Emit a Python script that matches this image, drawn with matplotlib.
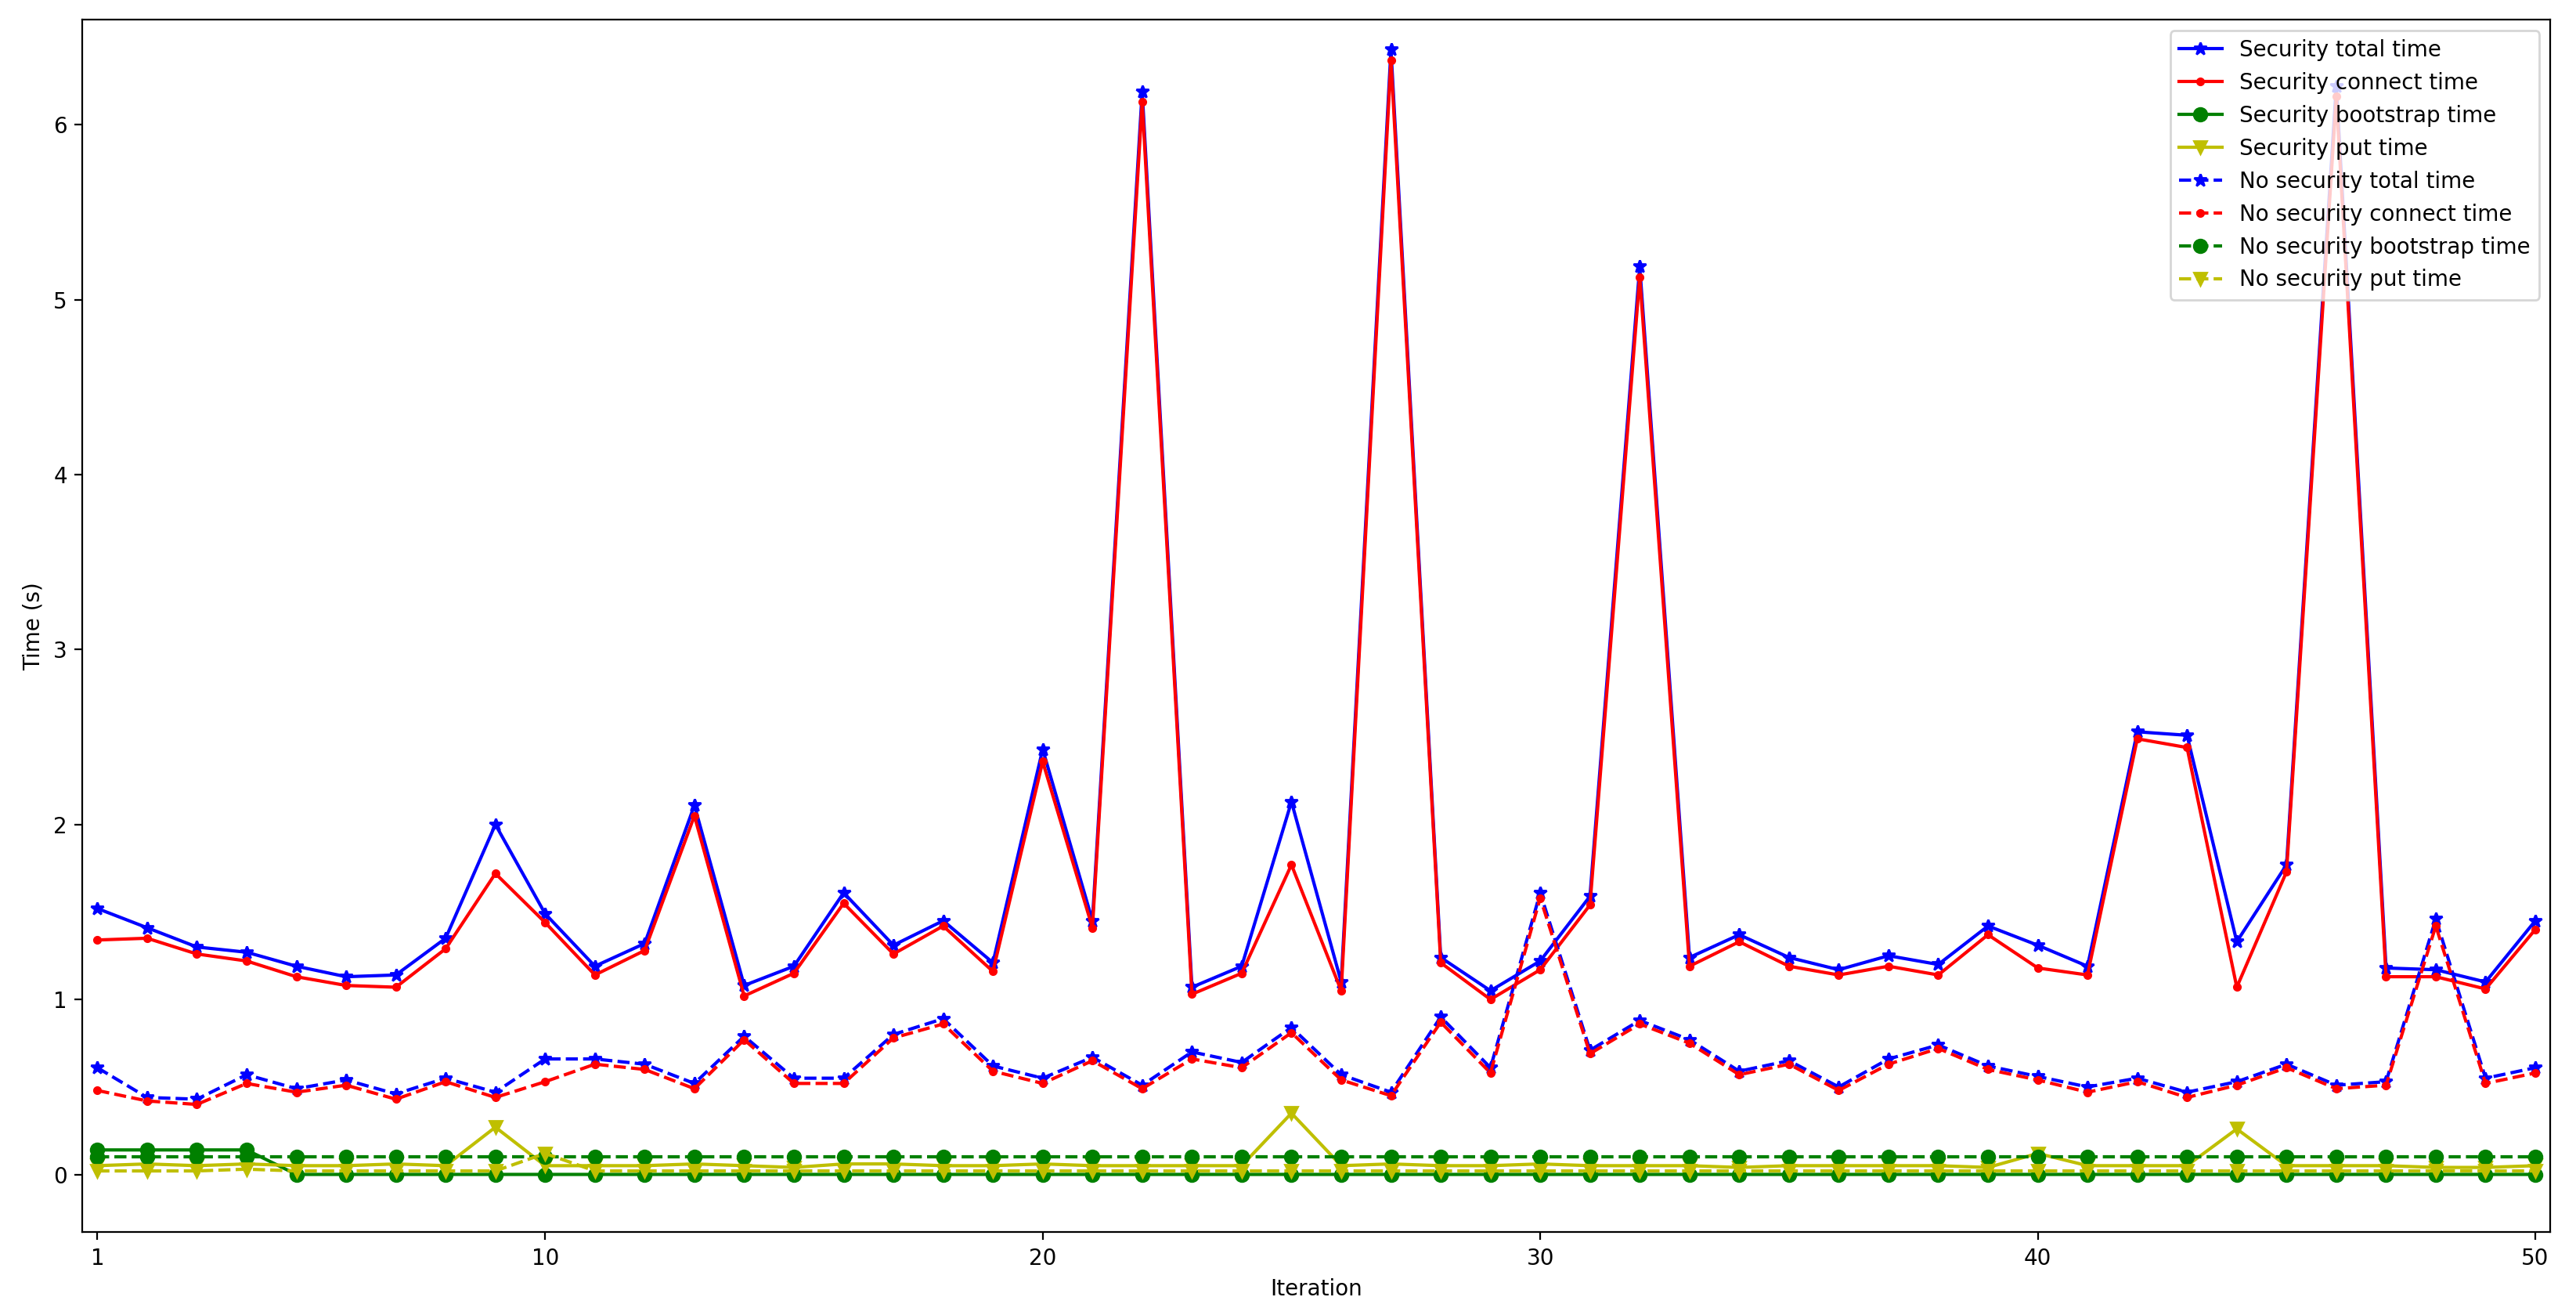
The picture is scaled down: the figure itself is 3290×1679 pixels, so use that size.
import matplotlib
matplotlib.use("Agg")
import matplotlib.pyplot as plt
import numpy as np

iterations = list(range(1, 51))

sec_total = [1.52, 1.41, 1.30, 1.27, 1.19, 1.13, 1.14, 1.35, 2.00, 1.49,
             1.19, 1.32, 2.11, 1.08, 1.19, 1.61, 1.31, 1.45, 1.21, 2.43,
             1.45, 6.19, 1.07, 1.19, 2.13, 1.10, 6.43, 1.24, 1.05, 1.22,
             1.59, 5.19, 1.24, 1.37, 1.24, 1.17, 1.25, 1.20, 1.42, 1.31,
             1.19, 2.53, 2.51, 1.33, 1.77, 6.22, 1.18, 1.17, 1.10, 1.45]
sec_connect = [1.34, 1.35, 1.26, 1.22, 1.13, 1.08, 1.07, 1.29, 1.72, 1.44,
               1.14, 1.28, 2.05, 1.02, 1.15, 1.55, 1.26, 1.42, 1.16, 2.36,
               1.41, 6.13, 1.03, 1.15, 1.77, 1.05, 6.37, 1.21, 1.00, 1.17,
               1.54, 5.13, 1.19, 1.33, 1.19, 1.14, 1.19, 1.14, 1.37, 1.18,
               1.14, 2.49, 2.44, 1.07, 1.73, 6.16, 1.13, 1.13, 1.06, 1.40]
sec_bootstrap = [0.14, 0.14, 0.14, 0.14] + [0.0] * 46
sec_put = [0.05, 0.06, 0.05, 0.06, 0.05, 0.05, 0.06, 0.05, 0.27, 0.05,
           0.05, 0.05, 0.06, 0.05, 0.04, 0.06, 0.06, 0.05, 0.05, 0.06,
           0.05, 0.05, 0.05, 0.05, 0.35, 0.05, 0.06, 0.05, 0.05, 0.06,
           0.05, 0.05, 0.05, 0.04, 0.05, 0.05, 0.05, 0.05, 0.04, 0.12,
           0.05, 0.05, 0.05, 0.26, 0.05, 0.05, 0.05, 0.04, 0.04, 0.05]

nosec_total = [0.61, 0.44, 0.43, 0.57, 0.49, 0.54, 0.46, 0.55, 0.47, 0.66,
               0.66, 0.63, 0.52, 0.79, 0.55, 0.55, 0.80, 0.89, 0.62, 0.55,
               0.67, 0.51, 0.70, 0.64, 0.84, 0.57, 0.47, 0.90, 0.61, 1.61,
               0.71, 0.88, 0.77, 0.59, 0.65, 0.50, 0.66, 0.74, 0.62, 0.56,
               0.50, 0.55, 0.47, 0.53, 0.63, 0.51, 0.53, 1.46, 0.55, 0.61]
nosec_connect = [0.48, 0.42, 0.40, 0.52, 0.47, 0.51, 0.43, 0.53, 0.44, 0.53,
                 0.63, 0.60, 0.49, 0.77, 0.52, 0.52, 0.78, 0.86, 0.59, 0.52,
                 0.65, 0.49, 0.66, 0.61, 0.81, 0.54, 0.45, 0.87, 0.58, 1.58,
                 0.69, 0.86, 0.75, 0.57, 0.63, 0.48, 0.63, 0.72, 0.60, 0.54,
                 0.47, 0.53, 0.44, 0.51, 0.61, 0.49, 0.51, 1.42, 0.52, 0.58]
nosec_bootstrap = [0.10] * 50
nosec_put = [0.02, 0.02, 0.02, 0.03, 0.02, 0.02, 0.02, 0.02, 0.02, 0.12,
             0.02, 0.02, 0.02, 0.02, 0.02, 0.02, 0.02, 0.02, 0.02, 0.02,
             0.02, 0.02, 0.02, 0.02, 0.02, 0.02, 0.02, 0.02, 0.02, 0.02,
             0.02, 0.02, 0.02, 0.02, 0.02, 0.02, 0.02, 0.02, 0.02, 0.02,
             0.02, 0.02, 0.02, 0.02, 0.02, 0.02, 0.02, 0.02, 0.02, 0.02]

fig, ax = plt.subplots(figsize=(16.45, 8.395), dpi=200)
fig.subplots_adjust(left=0.032, right=0.99, top=0.985, bottom=0.063)

ax.plot(iterations, sec_total, 'b*-', label='Security total time')
ax.plot(iterations, sec_connect, 'r.-', label='Security connect time')
ax.plot(iterations, sec_bootstrap, 'go-', label='Security bootstrap time')
ax.plot(iterations, sec_put, 'yv-', label='Security put time')
ax.plot(iterations, nosec_total, 'b*--', label='No security total time')
ax.plot(iterations, nosec_connect, 'r.--', label='No security connect time')
ax.plot(iterations, nosec_bootstrap, 'go--', label='No security bootstrap time')
ax.plot(iterations, nosec_put, 'yv--', label='No security put time')

ax.set_xlim(0.7, 50.3)
ax.set_ylim(-0.33, 6.6)
ax.set_xticks([1, 10, 20, 30, 40, 50])
ax.set_xlabel('Iteration')
ax.set_ylabel('Time (s)')
ax.legend(loc='upper right')

plt.savefig('out.png')
